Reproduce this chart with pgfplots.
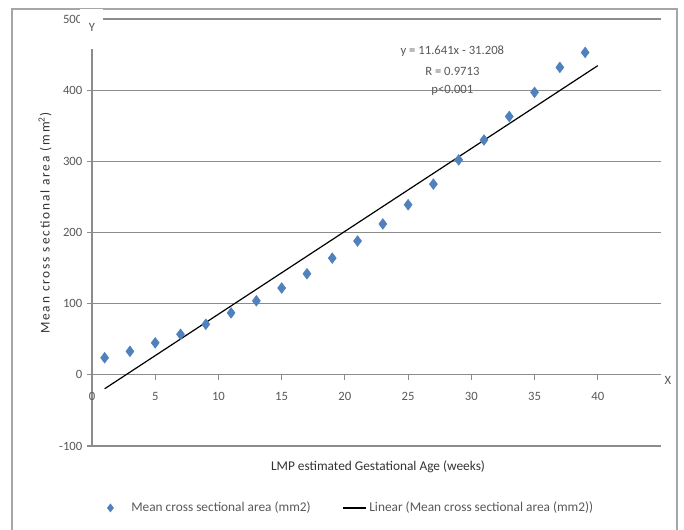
\documentclass[border=0pt]{standalone}
\usepackage{pgfplots}
\pgfplotsset{compat=1.18}
\usepackage{fontspec}
\setmainfont{Carlito}
\definecolor{txt}{HTML}{595959}
\definecolor{gridc}{HTML}{8C8C8C}
\definecolor{ptblue}{HTML}{4F81BD}
\pgfplotsset{diamleg/.style={legend image code/.code={\path[draw=none,fill=none] (0cm,0cm) -- (0.6cm,0cm); \path[##1, draw=none, mark size=3pt] plot[only marks] coordinates {(0.12cm,0cm)};}}}
\begin{document}
\begin{tikzpicture}
\path[use as bounding box] (-69pt,-63pt) rectangle (444pt,334.5pt);
\fill[white] (-69pt,-63pt) rectangle (444pt,334.5pt);
\draw[gray!70, line width=0.8pt] (-60pt,-70pt) rectangle (438.75pt,327.75pt);
\begin{axis}[
  at={(0,0)}, anchor=south west,
  scale only axis, width=426.75pt, height=320.25pt,
  xmin=0, xmax=45, ymin=-100, ymax=500,
  axis x line=middle, axis y line=left,
  axis line style={-, gridc, line width=0.8pt},
  hide obscured x ticks=false, hide obscured y ticks=false,
  xtick={0,5,...,40}, ytick={-100,0,...,500},
  tick align=outside, major tick length=3.75pt,
  tick style={gridc, line width=0.8pt},
  ymajorgrids, grid style={gridc, line width=0.9pt},
  /pgf/number format/assume math mode=true,
  ticklabel style={font=\fontsize{9.5}{11}\selectfont, text=txt},
  xticklabel style={yshift=-6pt},
  legend columns=2,
  legend style={at={(0.455,-0.145)}, anchor=center, draw=none, fill=none,
    font=\fontsize{10}{12}\selectfont, text=txt,
    /tikz/every even column/.append style={column sep=22pt}},
  clip=false,
]
\addplot[only marks, mark=diamond*, mark size=4pt, color=ptblue, diamleg] coordinates {
(1,24) (3,33) (5,45) (7,57) (9,71) (11,87) (13,104) (15,122) (17,142) (19,164)
(21,188) (23,212) (25,239) (27,268) (29,302) (31,330) (33,363) (35,397) (37,432) (39,453)
};
\addlegendentry{Mean cross sectional area (mm2)}
\addplot[black, line width=0.9pt, no marks] coordinates {(1,-19.567) (40,434.432)};
\addlegendentry{Linear (Mean cross sectional area (mm2))}
\node[align=center, text=txt, font=\fontsize{9.5}{11}\selectfont, inner sep=0pt] at (axis cs:28.5,455) {y = 11.641x - 31.208};
\node[align=center, text=txt, font=\fontsize{9.5}{11}\selectfont, inner sep=0pt] at (axis cs:28.5,427) {R = 0.9713};
\node[align=center, text=txt, font=\fontsize{9.5}{11}\selectfont, inner sep=0pt] at (axis cs:28.5,400) {p<0.001};
\end{axis}
\fill[white] (-9pt,328pt) rectangle (8.25pt,298pt);
\node[text=txt, font=\fontsize{9.5}{11}\selectfont] at (0pt,314pt) {Y};
\node[text=txt, font=\fontsize{9.5}{11}\selectfont] at (432pt,49.5pt) {X};
\node[text=black!80, font=\fontsize{10}{12}\selectfont] at (214.5pt,-15.75pt) {LMP estimated Gestational Age (weeks)};
\node[text=black!80, font=\fontsize{10}{12}\selectfont\addfontfeature{LetterSpace=14}, rotate=90] at (-35.25pt,167pt) {Mean cross sectional area (mm\textsuperscript{2})};
\end{tikzpicture}
\end{document}
